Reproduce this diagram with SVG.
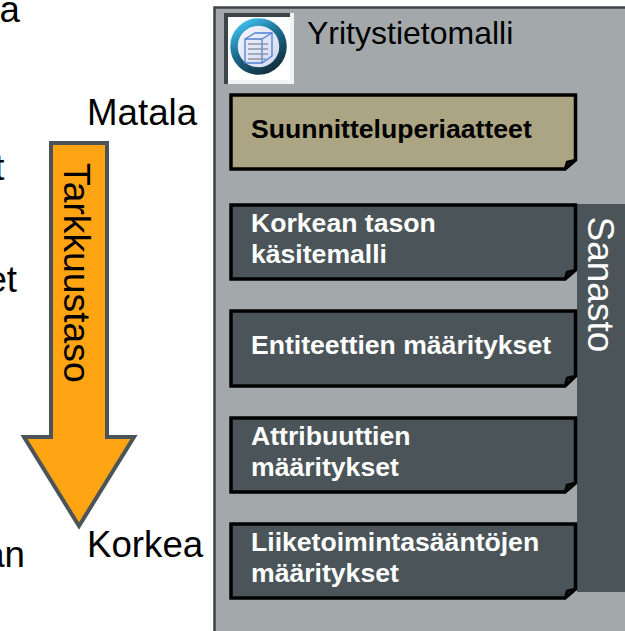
<svg xmlns="http://www.w3.org/2000/svg" width="625" height="631" viewBox="0 0 625 631">
<style>
text{font-family:"Liberation Sans",Arial,sans-serif}
.lab{font-size:36.7px;fill:#000}
.b{font-size:26.6px;font-weight:bold;fill:#fff}
.box{fill:#4b5559;stroke:#000;stroke-width:3.5;stroke-linejoin:miter}
.fold{fill:#20282a;stroke:#000;stroke-width:2.5;stroke-linejoin:round}
</style>
<defs>
<linearGradient id="ring" x1="0.15" y1="0" x2="0.75" y2="1"><stop offset="0" stop-color="#3fc0ee"/><stop offset="0.45" stop-color="#1b6d90"/><stop offset="1" stop-color="#12313f"/></linearGradient>
<linearGradient id="face" x1="0" y1="0" x2="1" y2="1"><stop offset="0" stop-color="#f7f8fc"/><stop offset="1" stop-color="#cfd5ee"/></linearGradient>
</defs>
<rect width="625" height="631" fill="#fff"/>
<g id="clipped-left">
<text class="lab" x="20" y="22" text-anchor="end">ä</text>
<text class="lab" x="4.500" y="179.500" text-anchor="end">t</text>
<text class="lab" x="17" y="291.500" text-anchor="end">et</text>
<text class="lab" x="25" y="567" text-anchor="end">an</text>
</g>
<g id="panel">
<rect x="214.500" y="7.500" width="420" height="640" fill="#a3a8aa" stroke="#3c4347" stroke-width="2.500"/>
</g>
<g id="icon">
<rect x="224" y="13" width="70" height="71" fill="#f1f2f2"/>
<path d="M224 13H290V17H228V84H224Z" fill="#3c4548"/>
<rect x="228" y="17" width="62" height="63" fill="#fff"/>
<circle cx="258.500" cy="46.500" r="24.500" fill="url(#face)" stroke="url(#ring)" stroke-width="7.500"/>
<g fill="none" stroke="#4f7fd4" stroke-width="1.300">
<path d="M245 39L255 33H272V56L262 63H245Z"/><path d="M245 39H262V63M262 39L272 33"/>
<path d="M248 44H268M248 49H268M248 54H268M248 59H266" stroke="#8a97ad" stroke-width="1.500"/>
</g>
</g>
<g id="sanasto">
<rect x="577" y="204" width="48" height="388" fill="#4b5559"/>
<text transform="translate(588,216.500) rotate(90)" font-size="37" fill="#fff">Sanasto</text>
</g>
<g id="node-suunnitteluperiaatteet">
<path class="box" style="fill:#aba583" d="M231 95H575.500V160L565 169H231Z"/>
<path class="fold" d="M565 169L567 162L575.500 160Z"/>
<text class="b" style="fill:#000" x="251" y="138">Suunnitteluperiaatteet</text>
</g>
<g id="node-korkean">
<path class="box" d="M231 205H575.500V270L565 279H231Z"/>
<path class="fold" d="M565 279L567 272L575.500 270Z"/>
<text class="b" x="251" y="232">Korkean tason</text>
<text class="b" x="251" y="263">käsitemalli</text>
</g>
<g id="node-entiteettien">
<path class="box" d="M231 311H575.500V376L565 386H231Z"/>
<path class="fold" d="M565 386L567 378L575.500 376Z"/>
<text class="b" x="251" y="354">Entiteettien määritykset</text>
</g>
<g id="node-attribuuttien">
<path class="box" d="M231 418H575.500V483L565 492H231Z"/>
<path class="fold" d="M565 492L567 485L575.500 483Z"/>
<text class="b" x="251" y="445">Attribuuttien</text>
<text class="b" x="251" y="476">määritykset</text>
</g>
<g id="node-liiketoiminta">
<path class="box" d="M231 524H575.500V589L565 598H231Z"/>
<path class="fold" d="M565 598L567 591L575.500 589Z"/>
<text class="b" x="251" y="551">Liiketoimintasääntöjen</text>
<text class="b" x="251" y="582">määritykset</text>
</g>
<g id="arrow">
<path d="M51 143H107V437H134L79 526L24 437H51Z" fill="#ffa412" stroke="#4b5559" stroke-width="4"/>
<text transform="translate(63.500,163) rotate(90)" font-size="37.300" fill="#000">Tarkkuustaso</text>
</g>
<g id="labels">
<text class="lab" x="87" y="125">Matala</text>
<text class="lab" x="87" y="557">Korkea</text>
<text x="307" y="44" font-size="32" fill="#000">Yritystietomalli</text>
</g>
</svg>
